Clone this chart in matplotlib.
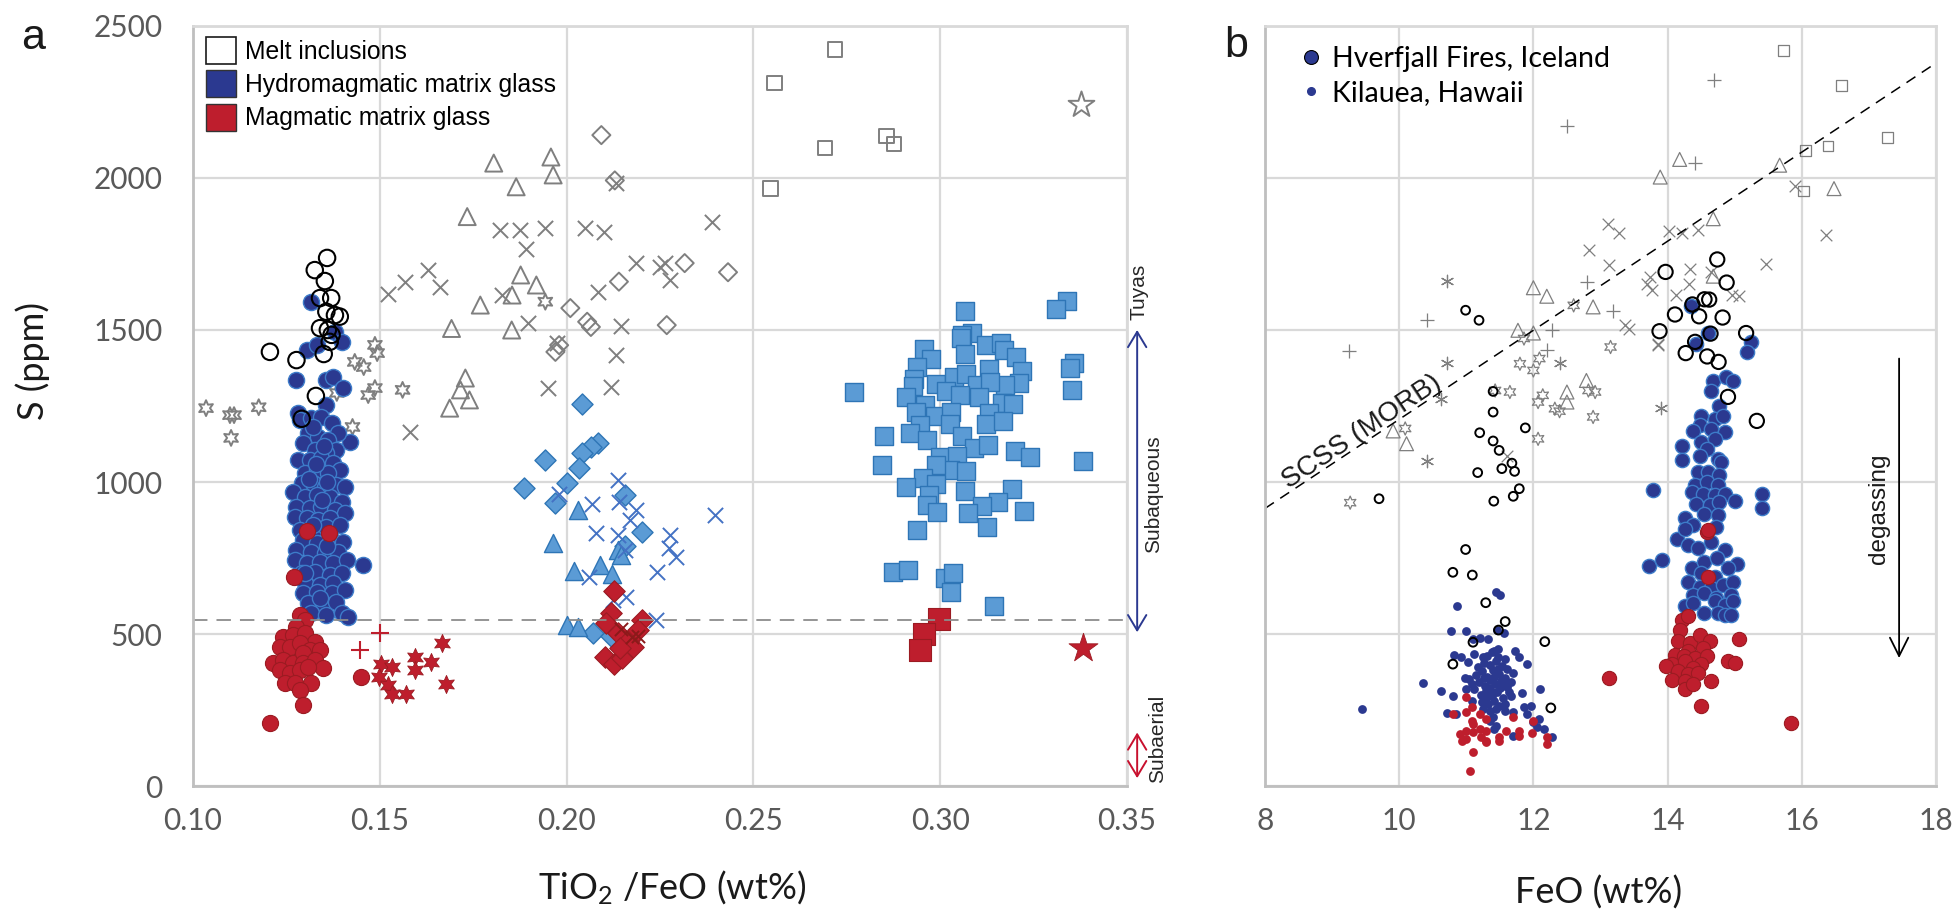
#!/usr/bin/env python3
"""S vs TiO2/FeO and S vs FeO for melt inclusions and matrix glasses."""

import matplotlib

matplotlib.use("Agg")
import matplotlib.pyplot as plt
import numpy as np
from matplotlib.lines import Line2D
from matplotlib.patches import Patch

plt.rcParams["font.family"] = ["Lato", "DejaVu Sans"]
plt.rcParams["mathtext.fontset"] = "custom"
plt.rcParams["mathtext.rm"] = "Lato"
plt.rcParams["mathtext.it"] = "Lato:italic"

ARIAL = ["Liberation Sans", "DejaVu Sans"]

DARK_BLUE = "#2b3990"
DARK_BLUE_EDGE = "#3d7cc9"
LIGHT_BLUE = "#5b9bd5"
LIGHT_BLUE_EDGE = "#2e75b6"
MID_BLUE = "#4472c4"
RED = "#be1e2d"
RED_EDGE = "#9b1b22"
GRAY = "#7f7f7f"

# ---------------------------------------------------------------------------
# Panel a: TiO2/FeO vs S (ppm)
# ---------------------------------------------------------------------------

# melt inclusions (open grey symbols = other localities, black circles = Hverfjall)
a_mi_hverfjall = [
    (0.1359, 1737), (0.1326, 1697), (0.1353, 1661), (0.1340, 1605), (0.1370, 1605),
    (0.1357, 1560), (0.1380, 1549), (0.1393, 1544), (0.1340, 1506), (0.1361, 1500),
    (0.1371, 1484), (0.1366, 1461), (0.1206, 1428), (0.1277, 1401), (0.1350, 1421),
    (0.1329, 1283), (0.1291, 1208),
]
a_mi_hexstar = [
    (0.1035, 1243), (0.1099, 1220), (0.1110, 1220), (0.1176, 1246), (0.1102, 1145),
    (0.1943, 1593), (0.1487, 1451), (0.1493, 1424), (0.1433, 1395), (0.1457, 1378),
    (0.1487, 1309), (0.1561, 1303), (0.1469, 1286), (0.1427, 1181), (0.1385, 1293),
]
a_mi_tri = [
    (0.1805, 2049), (0.1958, 2069), (0.1964, 2010), (0.1865, 1971), (0.1734, 1873),
    (0.1877, 1681), (0.1919, 1648), (0.1854, 1615), (0.1769, 1582), (0.1692, 1505),
    (0.1853, 1500), (0.1729, 1342), (0.1716, 1303), (0.1740, 1270), (0.1687, 1243),
]
a_mi_x = [
    (0.1522, 1620), (0.1568, 1659), (0.1628, 1697), (0.1660, 1640), (0.1582, 1165),
    (0.1823, 1829), (0.1874, 1829), (0.1943, 1834), (0.1891, 1768), (0.1826, 1615),
    (0.1896, 1523), (0.1973, 1456), (0.1951, 1309), (0.2050, 1834), (0.2101, 1821),
    (0.2083, 1625), (0.2146, 1513), (0.2133, 1418), (0.2119, 1314), (0.2185, 1720),
    (0.2250, 1708), (0.2277, 1664), (0.2262, 1720), (0.2131, 1983), (0.2390, 1856),
]
a_mi_dia = [
    (0.2093, 2141), (0.2129, 1992), (0.2140, 1659), (0.2010, 1572), (0.2055, 1527),
    (0.2065, 1510), (0.1970, 1428), (0.1980, 1450), (0.2268, 1516), (0.2316, 1720),
    (0.2432, 1690),
]
a_mi_sq = [
    (0.2718, 2423), (0.2557, 2312), (0.2692, 2099), (0.2856, 2138), (0.2876, 2112),
    (0.2546, 1966),
]
a_mi_star = [(0.3378, 2240)]

# hydromagmatic matrix glass
a_hyd_hverfjall = [
    (0.1317, 1593), (0.1380, 1494), (0.1398, 1461), (0.1304, 1434), (0.1331, 1451),
    (0.1277, 1336), (0.1357, 1336), (0.1375, 1346), (0.1402, 1309), (0.1357, 1253),
    (0.1280, 1226), (0.1420, 1133), (0.1455, 727),
    (0.1286, 1204), (0.1317, 1209), (0.1344, 1215), (0.1371, 1193), (0.1389, 1160),
    (0.1308, 1160), (0.1335, 1149), (0.1362, 1138), (0.1295, 1127), (0.1326, 1105),
    (0.1384, 1105), (0.1357, 1094), (0.1282, 1072), (0.1313, 1072), (0.1344, 1078),
    (0.1375, 1061), (0.1393, 1039), (0.1299, 1029), (0.1331, 1039), (0.1362, 1029),
    (0.1291, 996), (0.1322, 996), (0.1353, 985), (0.1384, 990), (0.1406, 985),
    (0.1268, 968), (0.1299, 952), (0.1331, 957), (0.1366, 952), (0.1398, 935),
    (0.1277, 919), (0.1313, 913), (0.1344, 919), (0.1380, 908), (0.1406, 897),
    (0.1273, 886), (0.1304, 880), (0.1335, 875), (0.1366, 880), (0.1286, 842),
    (0.1322, 837), (0.1357, 853), (0.1393, 859), (0.1295, 809), (0.1331, 798),
    (0.1371, 809), (0.1402, 804), (0.1277, 776), (0.1317, 771), (0.1353, 765),
    (0.1389, 771), (0.1273, 743), (0.1304, 732), (0.1340, 738), (0.1375, 732),
    (0.1411, 743), (0.1291, 700), (0.1326, 705), (0.1366, 694), (0.1398, 700),
    (0.1299, 667), (0.1340, 661), (0.1375, 667), (0.1295, 634), (0.1331, 639),
    (0.1371, 634), (0.1406, 645), (0.1308, 601), (0.1348, 601), (0.1384, 606),
    (0.1317, 568), (0.1357, 562), (0.1398, 568), (0.1415, 557),
    (0.1320, 1180), (0.1350, 1120), (0.1310, 1010), (0.1345, 940), (0.1320, 860),
    (0.1360, 790), (0.1300, 700), (0.1340, 620), (0.1360, 1000), (0.1330, 1060),
]
a_hyd_dia = [
    (0.2042, 1257), (0.2083, 1128), (0.2065, 1116), (0.2042, 1095), (0.1943, 1072),
    (0.2032, 1045), (0.1886, 980), (0.2000, 996), (0.1970, 932), (0.2155, 957),
    (0.2203, 837), (0.2155, 788), (0.2071, 504), (0.2119, 493),
]
a_hyd_tri = [
    (0.2030, 908), (0.1964, 798), (0.2020, 708), (0.2089, 727), (0.2121, 697),
    (0.2137, 776), (0.2000, 530), (0.2030, 524), (0.2145, 760),
]
a_hyd_x = [
    (0.2137, 1007), (0.1979, 962), (0.2069, 929), (0.2141, 935), (0.2185, 908),
    (0.2170, 875), (0.2078, 833), (0.2137, 826), (0.2278, 826), (0.2275, 782),
    (0.2293, 754), (0.2397, 893), (0.2242, 704), (0.2059, 689), (0.2160, 623),
    (0.2124, 612), (0.2239, 546), (0.2155, 776),
]
a_hyd_sq = [
    (0.3065, 1564), (0.3340, 1596), (0.3309, 1568), (0.3085, 1491), (0.3058, 1484),
    (0.3056, 1473), (0.2957, 1436), (0.2976, 1406), (0.3123, 1450), (0.3162, 1456),
    (0.3171, 1434), (0.3203, 1410), (0.3065, 1421), (0.2937, 1379), (0.3220, 1365),
    (0.2931, 1338), (0.2926, 1316), (0.2989, 1321), (0.3036, 1344), (0.3069, 1355),
    (0.3131, 1371), (0.3211, 1325), (0.3174, 1319), (0.3098, 1319), (0.3132, 1330),
    (0.2908, 1279), (0.2960, 1253), (0.3015, 1299), (0.3053, 1286), (0.3104, 1281),
    (0.3165, 1261), (0.3195, 1257), (0.2935, 1229), (0.2985, 1217), (0.3029, 1231),
    (0.3130, 1226), (0.3025, 1191), (0.3123, 1190), (0.3168, 1201), (0.2947, 1187),
    (0.2918, 1162), (0.2964, 1138), (0.3058, 1151), (0.3089, 1113), (0.3129, 1122),
    (0.2849, 1152), (0.3201, 1101), (0.3241, 1081), (0.3383, 1069), (0.2845, 1057),
    (0.2998, 1083), (0.3045, 1086), (0.3027, 1039), (0.3070, 1036), (0.2988, 1056),
    (0.2955, 1012), (0.2909, 982), (0.2989, 993), (0.2971, 957), (0.2964, 924),
    (0.2992, 902), (0.3067, 971), (0.3192, 976), (0.3154, 935), (0.3111, 922),
    (0.3073, 899), (0.3223, 905), (0.3125, 851), (0.2939, 842), (0.2873, 705),
    (0.2914, 711), (0.3013, 683), (0.3034, 702), (0.3029, 639), (0.3145, 593),
    (0.2768, 1295), (0.3358, 1390), (0.3347, 1374), (0.3352, 1303),
]

# magmatic matrix glass
a_mag_hverfjall = [
    (0.1306, 840), (0.1363, 833), (0.1271, 686), (0.1286, 562), (0.1299, 546),
    (0.1277, 524), (0.1242, 491), (0.1268, 497), (0.1299, 502), (0.1326, 475),
    (0.1233, 458), (0.1259, 458), (0.1286, 469), (0.1313, 447), (0.1340, 447),
    (0.1215, 404), (0.1242, 415), (0.1268, 404), (0.1295, 437), (0.1295, 404),
    (0.1326, 415), (0.1348, 387), (0.1233, 382), (0.1259, 371), (0.1286, 382),
    (0.1308, 393), (0.1246, 338), (0.1273, 338), (0.1317, 338), (0.1286, 316),
    (0.1295, 266), (0.1206, 208), (0.1451, 360),
]
a_mag_plus = [(0.1500, 502), (0.1448, 447)]
a_mag_hexstar = [
    (0.1666, 469), (0.1594, 425), (0.1636, 409), (0.1504, 403), (0.1534, 392),
    (0.1594, 382), (0.1499, 360), (0.1522, 332), (0.1534, 304), (0.1570, 304),
    (0.1677, 337),
]
a_mag_dia = [
    (0.2128, 640), (0.2119, 568), (0.2203, 546), (0.2106, 536), (0.2137, 502),
    (0.2167, 480), (0.2179, 458), (0.2102, 425), (0.2128, 403), (0.2149, 420),
    (0.2190, 513), (0.2143, 454),
]
a_mag_x = [(0.2145, 515), (0.2175, 490), (0.2190, 495)]
a_mag_sq = [(0.2997, 549), (0.2957, 500), (0.2947, 447)]
a_mag_star = [(0.3381, 453)]

A_XTICKS = [0.10, 0.15, 0.20, 0.25, 0.30, 0.35]
S_TICKS = [0, 500, 1000, 1500, 2000, 2500]
SUBAQUEOUS_LIMIT = 545
A_LEGEND = ["Melt inclusions", "Hydromagmatic matrix glass", "Magmatic matrix glass"]

# ---------------------------------------------------------------------------
# Panel b: FeO vs S (ppm)
# ---------------------------------------------------------------------------

b_mi_plus = [
    (14.69, 2323), (12.50, 2171), (14.41, 2050), (10.41, 1532), (9.25, 1431),
    (12.80, 1658), (13.19, 1562), (12.28, 1499), (12.20, 1435),
]
b_mi_sq = [
    (15.73, 2420), (16.59, 2305), (17.28, 2132), (16.39, 2105), (16.05, 2091),
    (16.02, 1957),
]
b_mi_tri = [
    (14.18, 2061), (13.89, 2003), (15.67, 2042), (16.48, 1965), (14.68, 1866),
    (14.68, 1677), (12.00, 1639), (12.20, 1611), (12.89, 1576), (11.77, 1499),
    (12.00, 1490), (12.79, 1334), (12.50, 1296), (12.50, 1263), (9.91, 1168),
    (10.11, 1126),
]
b_mi_x = [
    (13.11, 1850), (13.28, 1820), (12.83, 1764), (13.13, 1713), (14.02, 1826),
    (14.21, 1820), (14.46, 1828), (15.90, 1973), (16.36, 1811), (15.47, 1718),
    (13.74, 1674), (13.70, 1652), (13.77, 1630), (14.34, 1702), (14.32, 1652),
    (14.13, 1614), (14.96, 1614), (15.06, 1611), (13.36, 1515), (13.42, 1504),
    (13.86, 1450), (14.64, 1691), (13.85, 1453), (11.60, 1087),
]
b_mi_asterisk = [
    (10.71, 1660), (10.71, 1393), (12.39, 1393), (10.62, 1272), (13.90, 1245),
    (10.41, 1068),
]
b_mi_hexstar = [
    (13.15, 1444), (11.80, 1389), (12.09, 1406), (12.00, 1367), (11.65, 1296),
    (11.43, 1301), (12.14, 1285), (12.07, 1263), (12.32, 1241), (12.39, 1233),
    (12.89, 1214), (12.82, 1301), (12.92, 1296), (12.60, 1581), (11.86, 1472),
    (10.09, 1176), (12.07, 1142), (9.27, 932),
]
b_mi_hverfjall = [
    (14.74, 1732), (13.97, 1691), (14.88, 1656), (14.37, 1584), (14.55, 1601),
    (14.62, 1600), (14.11, 1551), (14.47, 1545), (14.82, 1541), (13.88, 1496),
    (14.64, 1488), (15.17, 1490), (14.41, 1461), (14.27, 1424), (14.59, 1413),
    (14.76, 1395), (14.90, 1280), (15.33, 1201),
]
b_mi_kilauea = [
    (10.99, 1565), (11.19, 1532), (11.40, 1298), (11.40, 1230), (11.88, 1178),
    (11.20, 1162), (11.40, 1135), (11.49, 1104), (11.17, 1031), (11.53, 1044),
    (11.68, 1062), (11.72, 1035), (9.70, 945), (11.41, 937), (11.70, 953),
    (11.79, 978), (10.99, 778), (10.80, 703), (11.09, 694), (11.29, 603),
    (11.58, 541), (11.48, 513), (11.10, 473), (12.17, 475), (10.80, 401),
    (12.26, 257),
]
b_hyd_hverfjall = [
    (14.35, 1580), (14.60, 1491), (14.43, 1455), (15.24, 1459), (15.19, 1428),
    (14.68, 1333), (14.65, 1300), (14.87, 1344), (14.97, 1333), (14.77, 1251),
    (14.50, 1218), (14.70, 1207), (14.82, 1218), (14.48, 1186), (14.65, 1175),
    (14.85, 1164), (14.38, 1169), (14.21, 1120), (14.21, 1071), (14.50, 1131),
    (14.70, 1142), (14.58, 1109), (14.75, 1076), (14.48, 1087), (14.80, 1066),
    (13.79, 973), (15.40, 962), (15.40, 913), (14.46, 1033), (14.60, 1033),
    (14.77, 1022), (14.41, 989), (14.58, 1000), (14.75, 989), (14.36, 967),
    (14.53, 962), (14.70, 956), (14.85, 962), (15.00, 937), (14.43, 929),
    (14.63, 924), (14.77, 935), (14.26, 880), (14.55, 896), (14.75, 891),
    (14.38, 858), (14.72, 853), (14.14, 814), (14.31, 793), (14.46, 782),
    (14.65, 803), (14.85, 776), (14.26, 847), (13.72, 725), (13.92, 743),
    (15.04, 729), (14.36, 716), (14.55, 738), (14.73, 749), (14.90, 716),
    (14.50, 700), (14.70, 689), (14.31, 672), (14.48, 656), (14.65, 651),
    (14.83, 662), (14.97, 672), (14.38, 629), (14.55, 634), (14.72, 618),
    (14.95, 629), (14.26, 591), (14.38, 602), (14.70, 607), (14.85, 596),
    (14.97, 607), (14.55, 569), (14.75, 569), (14.85, 563), (14.95, 563),
]
b_hyd_kilauea = [
    (11.44, 637), (11.51, 629), (10.86, 593), (10.77, 509), (11.00, 509),
    (11.46, 513), (11.56, 505), (11.10, 484), (11.20, 487), (11.32, 484),
    (10.82, 432), (10.92, 423), (11.03, 407), (11.12, 434), (11.25, 423),
    (11.42, 445), (11.47, 451), (11.72, 445), (11.79, 423), (11.91, 401),
    (10.35, 338), (10.63, 314), (10.80, 297), (10.98, 357), (11.00, 319),
    (11.83, 305), (12.10, 319), (10.71, 240), (11.57, 246), (11.69, 242),
    (11.86, 259), (11.96, 264), (11.91, 237), (11.99, 209), (12.08, 220),
    (12.06, 193), (12.16, 187), (12.28, 160), (11.69, 166), (11.35, 215),
    (11.44, 198), (11.42, 187), (11.08, 281), (10.84, 237), (11.25, 253),
    (9.45, 254),
    (11.18, 392), (11.27, 405), (11.36, 399), (11.44, 412), (11.53, 396),
    (11.61, 384), (11.70, 371), (11.14, 366), (11.23, 378), (11.31, 360),
    (11.40, 381), (11.49, 367), (11.58, 354), (11.66, 343), (11.19, 343),
    (11.28, 328), (11.35, 349), (11.43, 337), (11.51, 322), (11.57, 338),
    (11.63, 309), (11.12, 318), (11.22, 301), (11.30, 312), (11.38, 296),
    (11.46, 308), (11.55, 289), (11.67, 296), (11.24, 276), (11.33, 269),
    (11.41, 281), (11.49, 262), (11.58, 271), (11.36, 246), (11.44, 255),
    (11.31, 427), (11.39, 441), (11.48, 426), (11.57, 418), (11.08, 334),
    (11.04, 352), (11.26, 355), (11.34, 322), (11.42, 360), (11.52, 346),
    (11.47, 385), (11.37, 314), (11.29, 290), (11.61, 327), (11.40, 228),
]
b_mag_hverfjall = [
    (14.58, 836), (14.60, 842), (14.60, 689), (14.21, 547), (14.31, 558),
    (14.19, 514), (14.16, 476), (14.33, 471), (14.48, 498), (14.63, 476),
    (14.53, 454), (14.31, 443), (14.11, 432), (14.24, 427), (14.41, 421),
    (14.58, 427), (14.06, 400), (14.26, 410), (14.50, 400), (13.97, 394),
    (14.38, 389), (14.16, 378), (14.31, 367), (14.46, 372), (14.06, 350),
    (14.26, 345), (14.26, 318), (14.38, 334), (15.07, 484), (14.90, 410),
    (15.00, 405), (14.65, 345), (14.50, 263), (15.84, 206), (13.13, 357),
]
b_mag_kilauea = [
    (11.00, 294), (10.80, 237), (11.00, 242), (11.08, 259), (11.20, 237),
    (11.30, 220), (11.08, 215), (11.10, 204), (11.69, 228), (12.00, 213),
    (10.90, 171), (11.00, 182), (11.10, 177), (11.20, 187), (11.30, 182),
    (10.93, 149), (11.00, 155), (11.22, 160), (11.30, 149), (11.49, 160),
    (11.49, 149), (11.59, 180), (11.79, 180), (11.79, 166), (11.98, 173),
    (12.20, 160), (12.20, 138), (11.10, 111), (11.06, 50), (11.30, 144),
]

B_XTICKS = [8, 10, 12, 14, 16, 18]
# sulfur content at sulfide saturation (MORB) at the two ends of the FeO axis
SCSS_FEO = [8, 18]
SCSS_S = [913, 2378]
B_LEGEND = ["Hverfjall Fires, Iceland", "Kilauea, Hawaii"]

HEXSTAR = (6, 1, 0)
ASTERISK = (6, 2, 0)


def _scatter(ax, data, **kw):
    x, y = np.array(data, dtype=float).T
    ax.scatter(x, y, **kw)


def _style_axes(ax, xticks, xlim):
    ax.set_xlim(xlim)
    ax.set_ylim(0, 2500)
    ax.set_xticks(xticks)
    ax.set_yticks(S_TICKS)
    ax.set_axisbelow(True)
    ax.grid(True, color="#d9d9d9", linewidth=1.6)
    for side in ("top", "right"):
        ax.spines[side].set_color("#d9d9d9")
        ax.spines[side].set_linewidth(2)
    for side in ("left", "bottom"):
        ax.spines[side].set_color("#bfbfbf")
        ax.spines[side].set_linewidth(2)
    ax.tick_params(length=0, labelsize=21.5, labelcolor="#595959", pad=22)
    ax.tick_params(axis="x", pad=15)


def draw_panel_a(ax):
    open_gray = dict(facecolors="none", edgecolors=GRAY, linewidths=1.4)
    _scatter(ax, a_mi_hexstar, marker=HEXSTAR, s=130, **open_gray)
    _scatter(ax, a_mi_tri, marker="^", s=150, **open_gray)
    _scatter(ax, a_mi_x, marker="x", s=120, c=GRAY, linewidths=1.4)
    _scatter(ax, a_mi_dia, marker="D", s=85, **open_gray)
    _scatter(ax, a_mi_sq, marker="s", s=110, **open_gray)
    _scatter(ax, a_mi_star, marker="*", s=380, **open_gray)

    _scatter(ax, a_hyd_sq, marker="s", s=150, c=LIGHT_BLUE, edgecolors=LIGHT_BLUE_EDGE, linewidths=1)
    _scatter(ax, a_hyd_dia, marker="D", s=115, c=LIGHT_BLUE, edgecolors=LIGHT_BLUE_EDGE, linewidths=1)
    _scatter(ax, a_hyd_tri, marker="^", s=170, c=LIGHT_BLUE, edgecolors=LIGHT_BLUE_EDGE, linewidths=1)
    _scatter(ax, a_hyd_x, marker="x", s=120, c=MID_BLUE, linewidths=1.4)
    _scatter(ax, a_hyd_hverfjall, marker="o", s=135, c=DARK_BLUE, edgecolors=DARK_BLUE_EDGE, linewidths=1)

    _scatter(ax, a_mag_hverfjall, marker="o", s=135, c=RED, edgecolors=RED_EDGE, linewidths=0.8)
    _scatter(ax, a_mag_plus, marker="+", s=180, c=RED, linewidths=1.5)
    _scatter(ax, a_mag_hexstar, marker=HEXSTAR, s=170, c=RED, edgecolors=RED_EDGE, linewidths=0.6)
    _scatter(ax, a_mag_dia, marker="D", s=120, c=RED, edgecolors=RED_EDGE, linewidths=0.8)
    _scatter(ax, a_mag_x, marker="x", s=90, c="#8b1a1a", linewidths=1.4)
    _scatter(ax, a_mag_sq, marker="s", s=230, c=RED, edgecolors=RED_EDGE, linewidths=0.8)
    _scatter(ax, a_mag_star, marker="*", s=480, c=RED, edgecolors=RED_EDGE, linewidths=0.6)

    _scatter(ax, a_mi_hverfjall, marker="o", s=140, facecolors="none", edgecolors="black", linewidths=1.5)

    ax.axhline(SUBAQUEOUS_LIMIT, color="#8c8c8c", linewidth=1.3, dashes=(8, 5))

    _style_axes(ax, A_XTICKS, (0.10, 0.35))
    ax.set_xticklabels([f"{v:.2f}" for v in A_XTICKS])

    handles = [
        Patch(facecolor="white", edgecolor="#1a1a1a", linewidth=1.2),
        Patch(facecolor=DARK_BLUE, edgecolor="#333333", linewidth=1.0),
        Patch(facecolor=RED, edgecolor="#333333", linewidth=1.0),
    ]
    ax.legend(
        handles, A_LEGEND, loc="upper left", bbox_to_anchor=(0.0139, 0.9855),
        frameon=False, prop={"family": ARIAL, "size": 17.8},
        handlelength=1.21, handleheight=1.3, handletextpad=0.36,
        labelspacing=0.26, borderpad=0, borderaxespad=0,
    )

    # depositional environment arrows on the right-hand margin
    xa = 0.3527
    arrow = dict(shrinkA=0, shrinkB=0, lw=1.4, mutation_scale=22)
    ax.annotate("", xy=(xa, 506), xytext=(xa, 1500), annotation_clip=False,
                arrowprops=dict(arrowstyle="<->,head_length=0.5,head_width=0.3",
                                color=DARK_BLUE, **arrow))
    ax.annotate("", xy=(xa, 26), xytext=(xa, 176), annotation_clip=False,
                arrowprops=dict(arrowstyle="<->,head_length=0.5,head_width=0.3",
                                color="#c8102e", **arrow))
    txt = dict(rotation=90, ha="center", va="center", fontsize=15,
               family=ARIAL, color="#262626", clip_on=False)
    ax.text(0.3533, 1624, "Tuyas", **txt)
    ax.text(0.3570, 960, "Subaqueous", **txt)
    ax.text(0.3582, 156, "Subaerial", **txt)


def draw_panel_b(ax):
    open_gray = dict(facecolors="none", edgecolors=GRAY, linewidths=0.9)
    _scatter(ax, b_mi_plus, marker="+", s=110, c=GRAY, linewidths=0.9)
    _scatter(ax, b_mi_sq, marker="s", s=60, **open_gray)
    _scatter(ax, b_mi_tri, marker="^", s=100, **open_gray)
    _scatter(ax, b_mi_x, marker="x", s=70, c=GRAY, linewidths=0.9)
    _scatter(ax, b_mi_asterisk, marker=ASTERISK, s=80, c=GRAY, linewidths=0.9)
    _scatter(ax, b_mi_hexstar, marker=HEXSTAR, s=90, **open_gray)

    _scatter(ax, b_hyd_kilauea, marker="o", s=40, c=DARK_BLUE, linewidths=0)
    _scatter(ax, b_mag_kilauea, marker="o", s=40, c=RED, linewidths=0)
    _scatter(ax, b_mi_kilauea, marker="o", s=40, facecolors="none", edgecolors="black", linewidths=1.4)

    _scatter(ax, b_hyd_hverfjall, marker="o", s=105, c=DARK_BLUE, edgecolors=DARK_BLUE_EDGE, linewidths=1)
    _scatter(ax, b_mag_hverfjall, marker="o", s=105, c=RED, edgecolors=RED_EDGE, linewidths=0.8)
    _scatter(ax, b_mi_hverfjall, marker="o", s=105, facecolors="none", edgecolors="black", linewidths=1.5)

    ax.plot(SCSS_FEO, SCSS_S, color="black", linewidth=1.1, dashes=(7, 5))

    _style_axes(ax, B_XTICKS, (8, 18))
    ax.set_yticklabels([])

    # label along the SCSS line
    p0 = ax.transData.transform((SCSS_FEO[0], SCSS_S[0]))
    p1 = ax.transData.transform((SCSS_FEO[1], SCSS_S[1]))
    angle = np.degrees(np.arctan2(p1[1] - p0[1], p1[0] - p0[0]))
    feo_lbl = 9.5
    s_lbl = np.interp(feo_lbl, SCSS_FEO, SCSS_S)
    ax.annotate("SCSS (MORB)", xy=(feo_lbl, s_lbl), xytext=(0, 3),
                textcoords="offset points", rotation=angle, rotation_mode="anchor",
                ha="center", va="baseline", fontsize=20, family=ARIAL, color="#1a1a1a")

    ax.annotate("", xy=(17.45, 421), xytext=(17.45, 1406),
                arrowprops=dict(arrowstyle="->,head_length=0.6,head_width=0.3",
                                color="black", lw=1.3, shrinkA=0, shrinkB=0,
                                mutation_scale=22))
    ax.text(17.15, 913, "degassing", rotation=90, ha="center", va="center",
            fontsize=17.5, family=ARIAL, color="#1a1a1a")

    handles = [
        Line2D([], [], linestyle="none", marker="o", markersize=10,
               markerfacecolor=DARK_BLUE, markeredgecolor="black", markeredgewidth=0.8),
        Line2D([], [], linestyle="none", marker="o", markersize=5.5,
               markerfacecolor=DARK_BLUE, markeredgecolor=DARK_BLUE),
    ]
    ax.legend(
        handles, B_LEGEND, loc="upper left", bbox_to_anchor=(0.02, 1.0),
        frameon=False, fontsize=20.5, handlelength=0.9, handletextpad=0.3,
        labelspacing=0.3, borderpad=0.2,
    )


def main():
    fig = plt.figure(figsize=(19.53, 9.14), dpi=100)
    ax_a = fig.add_axes([0.0988, 0.1400, 0.4783, 0.8316])
    ax_b = fig.add_axes([0.6477, 0.1400, 0.3436, 0.8316])

    draw_panel_a(ax_a)
    draw_panel_b(ax_b)

    fig.text(672 / 1953, 1 - 888 / 914, "TiO$_2$ /FeO (wt%)", ha="center", va="center",
             fontsize=26, color="#1a1a1a")
    fig.text(1599 / 1953, 1 - 893 / 914, "FeO (wt%)", ha="center", va="center",
             fontsize=26, color="#1a1a1a")
    fig.text(33 / 1953, 1 - 361 / 914, "S (ppm)", rotation=90, ha="center", va="center",
             fontsize=26, color="#1a1a1a")

    fig.text(33 / 1953, 1 - 38 / 914, "a", ha="center", va="center", fontsize=31,
             family=ARIAL, color="#1a1a1a")
    fig.text(1236 / 1953, 1 - 46 / 914, "b", ha="center", va="center", fontsize=31,
             family=ARIAL, color="#1a1a1a")

    fig.savefig("out.png", dpi=100)
    plt.close(fig)


if __name__ == "__main__":
    main()
